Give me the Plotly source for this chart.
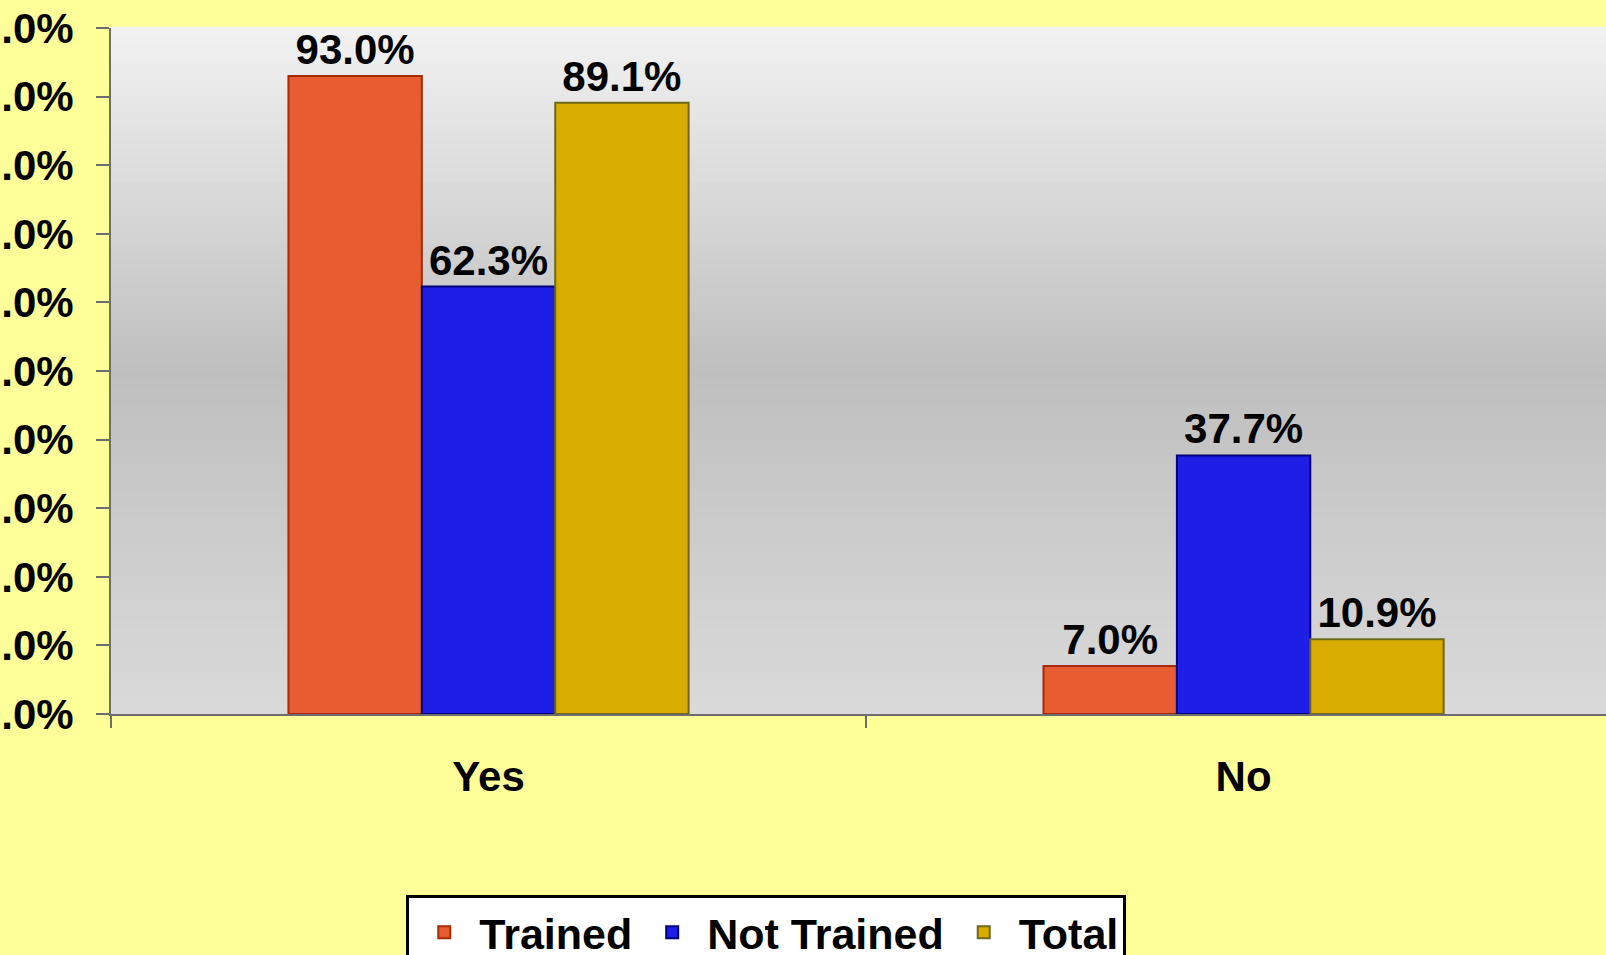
import plotly.graph_objects as go

categories = ["Yes", "No"]
trained = [93.0, 7.0]
not_trained = [62.3, 37.7]
total = [89.1, 10.9]
series_names = ["Trained", "Not Trained", "Total"]
y_ticks = [0, 10, 20, 30, 40, 50, 60, 70, 80, 90, 100]
y_tick_labels = ["0.0%", "10.0%", "20.0%", "30.0%", "40.0%", "50.0%",
                 "60.0%", "70.0%", "80.0%", "90.0%", "100.0%"]

FONT = "Liberation Sans, Arial, sans-serif"
FS = 42
LFS = 43
fill_colors = ["#e85c32", "#1e1ee6", "#d8ac00"]
edge_colors = ["#a52a05", "#00007a", "#6f6818"]

fig = go.Figure()
for name, vals, fc, ec in zip(series_names, [trained, not_trained, total], fill_colors, edge_colors):
    fig.add_trace(go.Bar(
        name=name, x=categories, y=vals,
        marker=dict(color=fc, line=dict(color=ec, width=2)),
        texttemplate="%{y:.1f}%", textposition="outside",
        textfont=dict(family=FONT, size=FS, color="black", weight="bold"),
        cliponaxis=False,
    ))

# vertical gradient background of the plot area (decoration)
def lerp(c1, c2, t):
    return tuple(round(a + (b - a) * t) for a, b in zip(c1, c2))

top_c, mid_c, bot_c = (242, 242, 242), (191, 191, 191), (218, 218, 218)
n = 80
shapes = []
for i in range(n):
    y0 = i / n
    y1 = (i + 1) / n
    yc = (y0 + y1) / 2
    if yc < 0.5:
        c = lerp(bot_c, mid_c, yc / 0.5)
    else:
        c = lerp(mid_c, top_c, (yc - 0.5) / 0.5)
    shapes.append(dict(type="rect", xref="paper", yref="paper", x0=0, x1=1, y0=y0, y1=y1 + 0.002,
                       fillcolor="rgb(%d,%d,%d)" % c, line=dict(width=0), layer="below"))

fig.update_layout(
    template="none",
    width=1606, height=955,
    margin=dict(l=111, r=0, t=28, b=241, pad=0, autoexpand=False),
    paper_bgcolor="#ffff99",
    plot_bgcolor="rgba(0,0,0,0)",
    barmode="group", bargap=0.47, bargroupgap=0,
    font=dict(family=FONT, size=FS, color="black", weight="bold"),
    shapes=shapes,
    showlegend=True,
    legend=dict(orientation="h", x=0.1975, xanchor="left", y=-0.2635, yanchor="top",
                bgcolor="white", bordercolor="black", borderwidth=3, itemwidth=60,
                font=dict(family=FONT, size=LFS, color="black", weight="bold"),
                traceorder="normal"),
    xaxis=dict(type="category", categoryorder="array", categoryarray=categories,
               range=[-0.5, 1.48], tickson="boundaries", ticks="outside", ticklen=12,
               tickcolor="#6e6e6e", tickwidth=2, showline=True, linecolor="#6e6e6e", linewidth=2,
               showgrid=False, zeroline=False, automargin=False, ticklabelstandoff=25,
               tickfont=dict(family=FONT, size=FS, color="black", weight="bold")),
    yaxis=dict(range=[0, 100], tickmode="array", tickvals=y_ticks, ticktext=y_tick_labels,
               ticks="outside", ticklen=13, tickcolor="#6e6e6e", tickwidth=2,
               showline=True, linecolor="#6e6e6e", linewidth=2, ticklabelstandoff=14,
               showgrid=False, zeroline=False, automargin=False,
               tickfont=dict(family=FONT, size=FS, color="black", weight="bold")),
)

fig.write_html("out.html", config={"displayModeBar": False},
               post_script="document.body.style.margin='0';document.body.style.overflow='hidden';")
